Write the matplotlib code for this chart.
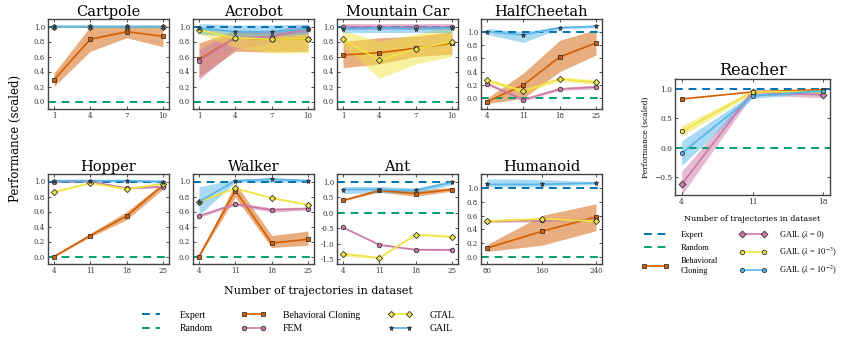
import numpy as np
import matplotlib
matplotlib.use('Agg')
import matplotlib.pyplot as plt
from matplotlib.lines import Line2D

plt.rcParams['font.family'] = ['DejaVu Serif']
plt.rcParams['mathtext.fontset'] = 'stix'

# ---- data ----
cartpole_x = [1, 4, 7, 10]
cartpole_bc = [0.29, 0.83, 0.93, 0.87]
cartpole_bc_lo = [0.20, 0.67, 0.85, 0.73]
cartpole_bc_hi = [0.38, 1.00, 1.00, 1.00]
cartpole_fem = [1.0, 1.0, 1.0, 1.0]
cartpole_fem_lo = [0.99, 0.99, 0.99, 0.99]
cartpole_fem_hi = [1.01, 1.01, 1.01, 1.01]
cartpole_gtal = [1.0, 1.0, 1.0, 1.0]
cartpole_gtal_lo = [0.99, 0.99, 0.99, 0.99]
cartpole_gtal_hi = [1.01, 1.01, 1.01, 1.01]
cartpole_gail = [1.0, 1.0, 1.0, 1.0]
cartpole_gail_lo = [0.98, 0.98, 0.98, 0.98]
cartpole_gail_hi = [1.02, 1.02, 1.02, 1.02]

acrobot_x = [1, 4, 7, 10]
acrobot_bc = [0.56, 0.85, 0.83, 0.84]
acrobot_bc_lo = [0.33, 0.67, 0.66, 0.67]
acrobot_bc_hi = [0.78, 0.95, 0.94, 0.95]
acrobot_fem = [0.54, 0.85, 0.86, 0.97]
acrobot_fem_lo = [0.29, 0.70, 0.78, 0.92]
acrobot_fem_hi = [0.70, 0.95, 0.95, 1.03]
acrobot_gtal = [0.95, 0.85, 0.83, 0.84]
acrobot_gtal_lo = [0.90, 0.72, 0.65, 0.65]
acrobot_gtal_hi = [1.00, 0.92, 0.90, 0.92]
acrobot_gail = [0.98, 0.93, 0.93, 0.97]
acrobot_gail_lo = [0.90, 0.87, 0.87, 0.90]
acrobot_gail_hi = [1.04, 1.02, 1.02, 1.03]

mcar_x = [1, 4, 7, 10]
mcar_bc = [0.62, 0.65, 0.71, 0.78]
mcar_bc_lo = [0.45, 0.50, 0.60, 0.63]
mcar_bc_hi = [0.80, 0.85, 0.87, 0.93]
mcar_fem = [1.00, 0.99, 0.99, 0.99]
mcar_fem_lo = [0.96, 0.96, 0.96, 0.96]
mcar_fem_hi = [1.03, 1.03, 1.03, 1.03]
mcar_gtal = [0.83, 0.55, 0.70, 0.80]
mcar_gtal_lo = [0.75, 0.31, 0.50, 0.60]
mcar_gtal_hi = [0.95, 0.80, 0.90, 1.00]
mcar_gail = [0.97, 0.98, 0.97, 0.98]
mcar_gail_lo = [0.92, 0.92, 0.92, 0.92]
mcar_gail_hi = [1.01, 1.01, 1.01, 1.01]

cheetah_x = [4, 11, 18, 25]
cheetah_bc = [-0.05, 0.20, 0.62, 0.83]
cheetah_bc_lo = [-0.08, 0.00, 0.40, 0.65]
cheetah_bc_hi = [0.00, 0.38, 0.87, 1.03]
cheetah_fem = [0.22, -0.02, 0.14, 0.17]
cheetah_fem_lo = [0.20, -0.04, 0.12, 0.14]
cheetah_fem_hi = [0.24, 0.00, 0.16, 0.20]
cheetah_gtal = [0.27, 0.11, 0.29, 0.24]
cheetah_gtal_lo = [0.24, 0.08, 0.26, 0.21]
cheetah_gtal_hi = [0.30, 0.14, 0.32, 0.28]
cheetah_gail = [1.00, 0.95, 1.06, 1.08]
cheetah_gail_lo = [0.96, 0.84, 1.04, 1.06]
cheetah_gail_hi = [1.05, 1.00, 1.08, 1.10]

hopper_x = [4, 11, 18, 25]
hopper_bc = [0.00, 0.28, 0.54, 0.95]
hopper_bc_lo = [-0.01, 0.26, 0.49, 0.90]
hopper_bc_hi = [0.01, 0.31, 0.60, 0.98]
hopper_fem = [1.00, 1.00, 0.91, 0.93]
hopper_fem_lo = [0.99, 0.99, 0.90, 0.92]
hopper_fem_hi = [1.01, 1.01, 0.92, 0.94]
hopper_gtal = [0.86, 0.98, 0.90, 0.97]
hopper_gtal_lo = [0.85, 0.97, 0.89, 0.96]
hopper_gtal_hi = [0.87, 0.99, 0.91, 0.98]
hopper_gail = [1.01, 1.01, 1.01, 1.00]
hopper_gail_lo = [0.99, 0.99, 0.99, 0.98]
hopper_gail_hi = [1.03, 1.03, 1.03, 1.02]

walker_x = [4, 11, 18, 25]
walker_bc = [0.00, 0.88, 0.18, 0.23]
walker_bc_lo = [-0.01, 0.79, 0.12, 0.15]
walker_bc_hi = [0.01, 0.98, 0.28, 0.34]
walker_fem = [0.54, 0.70, 0.62, 0.64]
walker_fem_lo = [0.52, 0.68, 0.59, 0.62]
walker_fem_hi = [0.56, 0.72, 0.65, 0.66]
walker_gtal = [0.73, 0.91, 0.78, 0.69]
walker_gtal_lo = [0.72, 0.90, 0.77, 0.68]
walker_gtal_hi = [0.74, 0.92, 0.79, 0.70]
walker_gail = [0.73, 1.01, 1.03, 1.01]
walker_gail_lo = [0.55, 0.99, 0.99, 0.99]
walker_gail_hi = [0.93, 1.03, 1.05, 1.03]

ant_x = [4, 11, 18, 25]
ant_bc = [0.40, 0.72, 0.62, 0.75]
ant_bc_lo = [0.38, 0.67, 0.53, 0.70]
ant_bc_hi = [0.42, 0.77, 0.72, 0.82]
ant_fem = [-0.47, -1.03, -1.19, -1.19]
ant_fem_lo = [-0.49, -1.05, -1.21, -1.22]
ant_fem_hi = [-0.45, -1.01, -1.17, -1.16]
ant_gtal = [-1.33, -1.45, -0.70, -0.77]
ant_gtal_lo = [-1.39, -1.48, -0.73, -0.80]
ant_gtal_hi = [-1.27, -1.42, -0.67, -0.74]
ant_gail = [0.75, 0.75, 0.72, 0.98]
ant_gail_lo = [0.62, 0.65, 0.62, 0.90]
ant_gail_hi = [0.85, 0.85, 0.80, 1.05]

humanoid_x = [80, 160, 240]
humanoid_bc = [0.13, 0.37, 0.58]
humanoid_bc_lo = [0.08, 0.17, 0.38]
humanoid_bc_hi = [0.18, 0.60, 0.77]
humanoid_fem = [0.52, 0.53, 0.53]
humanoid_fem_lo = [0.50, 0.51, 0.51]
humanoid_fem_hi = [0.54, 0.55, 0.55]
humanoid_gtal = [0.52, 0.55, 0.52]
humanoid_gtal_lo = [0.50, 0.53, 0.50]
humanoid_gtal_hi = [0.54, 0.57, 0.54]
humanoid_gail = [1.05, 1.05, 1.07]
humanoid_gail_lo = [1.02, 1.02, 1.05]
humanoid_gail_hi = [1.13, 1.12, 1.09]

reacher_x = [4, 11, 18]
reacher_bc = [0.83, 0.95, 0.99]
reacher_gail0 = [-0.62, 0.95, 0.90]
reacher_gail0_lo = [-0.80, 0.90, 0.85]
reacher_gail0_hi = [-0.40, 1.00, 0.96]
reacher_gail3 = [0.28, 0.95, 0.96]
reacher_gail3_lo = [0.20, 0.92, 0.93]
reacher_gail3_hi = [0.38, 0.98, 0.99]
reacher_gail2 = [-0.09, 0.88, 0.97]
reacher_gail2_lo = [-0.30, 0.84, 0.94]
reacher_gail2_hi = [0.12, 0.92, 1.00]

# ---- style ----
C_EXPERT = '#0072B2'
C_RANDOM = '#009E73'
C_BC = '#D55E00'
C_FEM = '#CC79A7'
C_GTAL = '#F0E442'
C_GAIL = '#56B4E9'
EDGE = '#333333'

W, H = 842, 338
fig = plt.figure(figsize=(W / 100, H / 100), dpi=100)


def make_ax(left, top, width, height):
    ax = fig.add_axes([left / W, 1 - (top + height) / H, width / W, height / H])
    for s in ax.spines.values():
        s.set_color('#444444')
        s.set_linewidth(1.0)
    ax.tick_params(direction='in', length=2, width=0.6, labelsize=5,
                   top=True, right=True, pad=2, colors='#333333')
    return ax


def refs(ax):
    ax.axhline(1.0, color=C_EXPERT, ls=(0, (4, 3)), lw=1.4, zorder=2)
    ax.axhline(0.0, color=C_RANDOM, ls=(0, (4, 3)), lw=1.4, zorder=2)


def series(ax, x, y, lo, hi, color, marker, ms, mfc=None):
    ax.fill_between(x, lo, hi, color=color, alpha=0.5, lw=0, zorder=1)
    ax.plot(x, y, color=color, lw=1.2, marker=marker, ms=ms,
            mfc=mfc if mfc else color, mec=EDGE, mew=0.6, zorder=3)


def panel(ax, title, x, bc, fem, gtal, gail, ylim, yticks):
    refs(ax)
    series(ax, x, *bc, C_BC, 's', 3.5)
    series(ax, x, *fem, C_FEM, 'o', 3.2)
    series(ax, x, *gtal, C_GTAL, 'D', 3.2)
    series(ax, x, *gail, C_GAIL, '*', 3.6, mfc='#2b4d6e')
    ax.set_xticks(x)
    ax.set_yticks(yticks)
    ax.set_yticklabels(['%.1f' % v for v in yticks])
    ax.set_ylim(*ylim)
    ax.margins(x=0.055)
    ax.set_title(title, fontsize=10.5, pad=2.5)


yt01 = [0.0, 0.2, 0.4, 0.6, 0.8, 1.0]
lefts = [48, 193, 337, 481]
aw, ah = 121, 90

panel(make_ax(lefts[0], 19, aw, ah), 'Cartpole', cartpole_x,
      (cartpole_bc, cartpole_bc_lo, cartpole_bc_hi),
      (cartpole_fem, cartpole_fem_lo, cartpole_fem_hi),
      (cartpole_gtal, cartpole_gtal_lo, cartpole_gtal_hi),
      (cartpole_gail, cartpole_gail_lo, cartpole_gail_hi), (-0.1, 1.1), yt01)
panel(make_ax(lefts[1], 19, aw, ah), 'Acrobot', acrobot_x,
      (acrobot_bc, acrobot_bc_lo, acrobot_bc_hi),
      (acrobot_fem, acrobot_fem_lo, acrobot_fem_hi),
      (acrobot_gtal, acrobot_gtal_lo, acrobot_gtal_hi),
      (acrobot_gail, acrobot_gail_lo, acrobot_gail_hi), (-0.1, 1.1), yt01)
panel(make_ax(lefts[2], 19, aw, ah), 'Mountain Car', mcar_x,
      (mcar_bc, mcar_bc_lo, mcar_bc_hi),
      (mcar_fem, mcar_fem_lo, mcar_fem_hi),
      (mcar_gtal, mcar_gtal_lo, mcar_gtal_hi),
      (mcar_gail, mcar_gail_lo, mcar_gail_hi), (-0.1, 1.1), yt01)
panel(make_ax(lefts[3], 19, aw, ah), 'HalfCheetah', cheetah_x,
      (cheetah_bc, cheetah_bc_lo, cheetah_bc_hi),
      (cheetah_fem, cheetah_fem_lo, cheetah_fem_hi),
      (cheetah_gtal, cheetah_gtal_lo, cheetah_gtal_hi),
      (cheetah_gail, cheetah_gail_lo, cheetah_gail_hi), (-0.16, 1.19), yt01)
panel(make_ax(lefts[0], 174, aw, ah), 'Hopper', hopper_x,
      (hopper_bc, hopper_bc_lo, hopper_bc_hi),
      (hopper_fem, hopper_fem_lo, hopper_fem_hi),
      (hopper_gtal, hopper_gtal_lo, hopper_gtal_hi),
      (hopper_gail, hopper_gail_lo, hopper_gail_hi), (-0.1, 1.1), yt01)
panel(make_ax(lefts[1], 174, aw, ah), 'Walker', walker_x,
      (walker_bc, walker_bc_lo, walker_bc_hi),
      (walker_fem, walker_fem_lo, walker_fem_hi),
      (walker_gtal, walker_gtal_lo, walker_gtal_hi),
      (walker_gail, walker_gail_lo, walker_gail_hi), (-0.1, 1.1), yt01)
panel(make_ax(lefts[2], 174, aw, ah), 'Ant', ant_x,
      (ant_bc, ant_bc_lo, ant_bc_hi),
      (ant_fem, ant_fem_lo, ant_fem_hi),
      (ant_gtal, ant_gtal_lo, ant_gtal_hi),
      (ant_gail, ant_gail_lo, ant_gail_hi), (-1.65, 1.25),
      [-1.5, -1.0, -0.5, 0.0, 0.5, 1.0])
panel(make_ax(lefts[3], 174, aw, ah), 'Humanoid', humanoid_x,
      (humanoid_bc, humanoid_bc_lo, humanoid_bc_hi),
      (humanoid_fem, humanoid_fem_lo, humanoid_fem_hi),
      (humanoid_gtal, humanoid_gtal_lo, humanoid_gtal_hi),
      (humanoid_gail, humanoid_gail_lo, humanoid_gail_hi), (-0.1, 1.2), yt01)

fig.text(15 / W, 1 - 138 / H, 'Performance (scaled)', rotation=90,
         ha='center', va='center', fontsize=8.5)
fig.text(318 / W, 1 - 291 / H, 'Number of trajectories in dataset',
         ha='center', va='center', fontsize=8)

# main legend
h_exp = Line2D([], [], color=C_EXPERT, ls=(0, (4, 3)), lw=1.4)
h_rnd = Line2D([], [], color=C_RANDOM, ls=(0, (4, 3)), lw=1.4)
h_bc = Line2D([], [], color=C_BC, lw=1.2, marker='s', ms=3.5, mec=EDGE, mew=0.6)
h_fem = Line2D([], [], color=C_FEM, lw=1.2, marker='o', ms=3.2, mec=EDGE, mew=0.6)
h_gtal = Line2D([], [], color=C_GTAL, lw=1.2, marker='D', ms=3.2, mec=EDGE, mew=0.6)
h_gail = Line2D([], [], color=C_GAIL, lw=1.2, marker='*', ms=3.6, mfc='#2b4d6e',
                mec=EDGE, mew=0.6)
fig.legend([h_exp, h_rnd, h_bc, h_fem, h_gtal, h_gail],
           ['Expert', 'Random', 'Behavioral Cloning', 'FEM', 'GTAL', 'GAIL'],
           ncol=3, loc='upper left', bbox_to_anchor=(130 / W, 1 - 302 / H),
           frameon=False, numpoints=2, handlelength=2.5, handletextpad=1.75,
           columnspacing=2.9, labelspacing=0.45,
           prop={'family': 'Liberation Serif', 'size': 7})

# Reacher
ax = make_ax(675, 79, 155, 116)
refs(ax)
ax.plot(reacher_x, reacher_bc, color=C_BC, lw=1.2, marker='s', ms=3.5,
        mec=EDGE, mew=0.6, zorder=3)
series(ax, reacher_x, reacher_gail0, reacher_gail0_lo, reacher_gail0_hi,
       C_FEM, 'D', 3.5)
series(ax, reacher_x, reacher_gail3, reacher_gail3_lo, reacher_gail3_hi,
       C_GTAL, 'o', 3.2)
series(ax, reacher_x, reacher_gail2, reacher_gail2_lo, reacher_gail2_hi,
       C_GAIL, 'o', 3.0)
ax.set_xticks(reacher_x)
ax.set_yticks([-0.5, 0.0, 0.5, 1.0])
ax.set_ylim(-0.8, 1.17)
ax.margins(x=0.047)
ax.tick_params(labelsize=5.4)
ax.set_title('Reacher', fontsize=11.5, pad=3)
ax.set_ylabel('Performance (scaled)', fontsize=5.5, labelpad=3)
ax.set_xlabel('Number of trajectories in dataset', fontsize=5.8, labelpad=7)

r0 = Line2D([], [], color=C_FEM, lw=1.2, marker='D', ms=3.5, mec=EDGE, mew=0.6)
r3 = Line2D([], [], color=C_GTAL, lw=1.2, marker='o', ms=3.2, mec=EDGE, mew=0.6)
r2 = Line2D([], [], color=C_GAIL, lw=1.2, marker='o', ms=3.0, mec=EDGE, mew=0.6)
fig.legend([h_exp, h_rnd, h_bc, r0, r3, r2],
           ['Expert', 'Random', 'Behavioral\nCloning',
            r'GAIL ($\lambda$ = 0)', r'GAIL ($\lambda$ = $10^{-3}$)',
            r'GAIL ($\lambda$ = $10^{-2}$)'],
           ncol=2, loc='upper left', bbox_to_anchor=(634 / W, 1 - 222 / H),
           frameon=False, numpoints=2, handlelength=3.2, handletextpad=1.5,
           columnspacing=2.6, labelspacing=0.6,
           prop={'family': 'Liberation Serif', 'size': 6})

fig.savefig('out.png', dpi=100)
